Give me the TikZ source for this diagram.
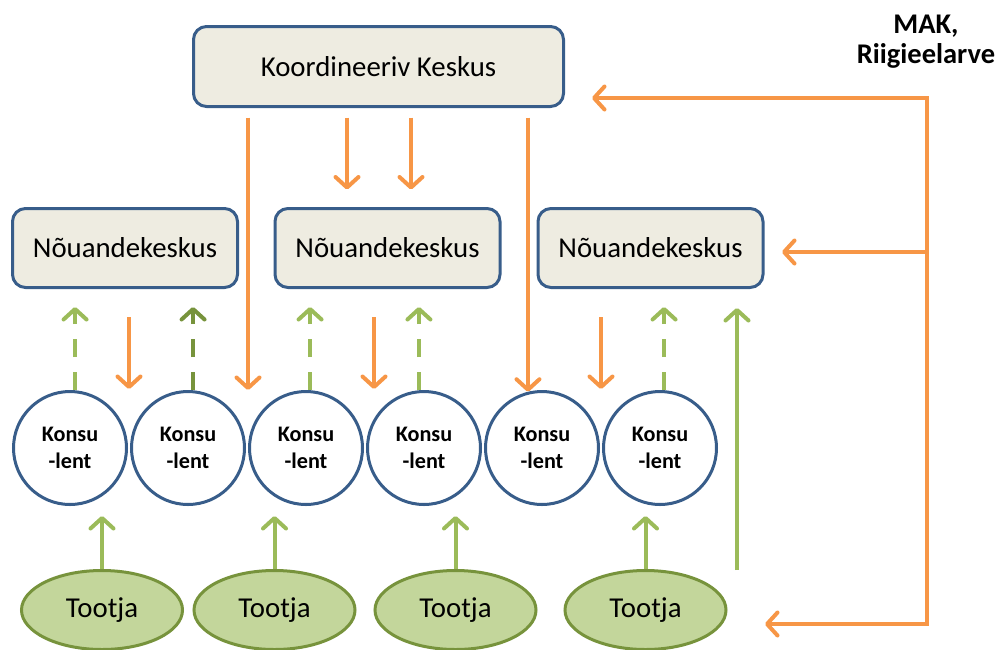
\documentclass[tikz,border=0pt]{standalone}
\usepackage{fontspec}
\setmainfont{Carlito}
\usetikzlibrary{arrows.meta,shapes.geometric,calc}
\definecolor{boxfill}{HTML}{EEECE1}
\definecolor{boxblue}{HTML}{385D8A}
\definecolor{orangec}{HTML}{F79646}
\definecolor{greenc}{HTML}{9BBB59}
\definecolor{greendark}{HTML}{77933C}
\definecolor{ellfill}{HTML}{C3D69B}
\begin{document}
\begin{tikzpicture}[x=1pt,y=-1pt,
  box/.style={draw=boxblue, fill=boxfill, line width=3pt, rounded corners=13pt, inner sep=0pt, font=\fontsize{28.8}{32}\selectfont},
  kons/.style={circle, draw=boxblue, fill=white, line width=3pt, minimum size=113pt, inner sep=0pt, align=center, font=\bfseries\fontsize{22.2}{27}\selectfont},
  prod/.style={ellipse, draw=greendark, fill=ellfill, line width=3pt, minimum width=161pt, minimum height=79pt, inner sep=0pt, font=\fontsize{28.8}{32}\selectfont},
  tipped/.style={-{Straight Barb[length=10.5pt,width=23pt,round]}},
  oarrow/.style={tipped, draw=orangec, line width=4pt},
  garrow/.style={tipped, draw=greenc, line width=4pt},
  gdash/.style={garrow, dash pattern=on 18pt off 15pt},
]
\useasboundingbox (0,0) rectangle (1001,649);

% boxes
\node[box, minimum width=370pt, minimum height=80pt] (k) at (378.5,66.5) {Koordineeriv Keskus};
\node[box, minimum width=225pt, minimum height=79pt] (n1) at (125,248) {Nõuandekeskus};
\node[box, minimum width=225pt, minimum height=79pt] (n2) at (387.5,248) {Nõuandekeskus};
\node[box, minimum width=225pt, minimum height=79pt] (n3) at (650.5,248) {Nõuandekeskus};

% consultants
\foreach \i/\x in {1/70,2/188,3/306,4/424,5/542,6/660}
  \node[kons] (c\i) at (\x,448) {Konsu\\-lent};

% producers
\node[prod] (t1) at (102,610) {Tootja};
\node[prod] (t2) at (274.5,610) {Tootja};
\node[prod] (t3) at (455.5,610) {Tootja};
\node[prod] (t4) at (645.5,610) {Tootja};

% label
\node[font=\bfseries\fontsize{28.5}{30}\selectfont, align=center] (mak) at (926,42) {MAK,\\Riigieelarve};

% top box to middle box
\draw[oarrow] ([xshift=-31.5pt]k.south) ++(0,9.5) -- ++(0,72);
\draw[oarrow] ([xshift=32.5pt]k.south) ++(0,9.5) -- ++(0,72);

% top box to consultants (long)
\draw[oarrow] (k.south -| c3.west) ++(0,9.5) -- (c3.west |- c3.north);
\draw[oarrow] (k.south -| c5.104) ++(0,9.5) -- (c5.104);

% advisory centres to consultants
\draw[oarrow] ([xshift=4pt]n1.south) ++(0,28) -- ++(0,72);
\draw[oarrow] ([xshift=-13.5pt]n2.south) ++(0,28) -- ++(0,72);
\draw[oarrow] ([xshift=-49.5pt]n3.south) ++(0,28) -- ++(0,72);

% consultants to advisory centres (dashed)
\draw[gdash, shorten >=18pt] (c1.85) -- (c1.85 |- n1.south);
\draw[gdash, draw=greendark, shorten >=18pt] (c2.85) -- (c2.85 |- n1.south);
\draw[gdash, shorten >=18pt] (c3.86) -- (c3.86 |- n2.south);
\draw[gdash, shorten >=18pt] (c4.95) -- (c4.95 |- n2.south);
\draw[gdash, shorten >=18pt] (c6.86) -- (c6.86 |- n3.south);

% producers to consultants
\foreach \t in {t1,t2,t3,t4}
  \draw[garrow] (\t.north) -- ++(0,-53);

% long green
\coordinate (gl) at (737,570);
\draw[garrow, shorten >=19pt] (gl) -- (gl |- n3.south);

% right side funding
\coordinate (rt) at (927,98);
\coordinate (rm) at (927,252);
\coordinate (rb) at (927,624);
\draw[orangec, line width=4pt, line cap=rect] (rt) -- (rb);
\draw[oarrow, shorten >=27pt] (rt) -- (rt -| k.east);
\draw[oarrow, shorten >=17.5pt] (rm) -- (rm -| n3.east);
\draw[oarrow, shorten >=37.5pt] (rb) -- (rb -| t4.east);
\end{tikzpicture}
\end{document}
